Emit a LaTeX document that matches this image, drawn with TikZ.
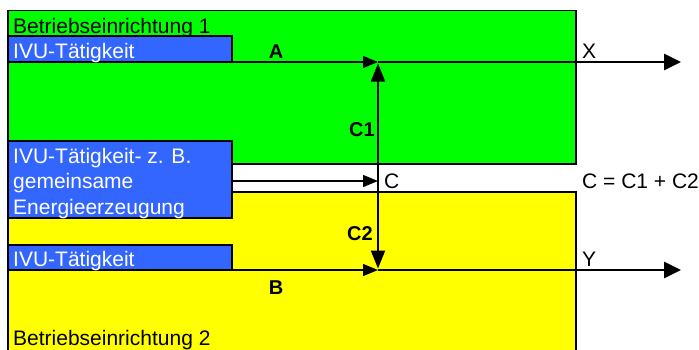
\documentclass[tikz,border=0pt]{standalone}
\usepackage{fontspec}
\setmainfont{Liberation Sans}
\usetikzlibrary{arrows.meta}

\definecolor{ivublue}{RGB}{51,102,255}
\definecolor{werkgruen}{RGB}{0,255,0}
\definecolor{werkgelb}{RGB}{255,255,0}

\tikzset{
  werk/.style={draw=black, line width=1.5pt, anchor=north west, minimum width=568pt, inner sep=0pt, outer sep=0pt},
  ivu/.style={draw=black, fill=ivublue, line width=2pt, anchor=north west, minimum width=224pt, inner sep=0pt, outer sep=0pt},
  txt/.style={anchor=base west, inner sep=0pt},
  lbl/.style={font=\bfseries\fontsize{20}{22}\selectfont, inner sep=0pt},
  flow/.style={line width=1.3pt, -{Triangle[length=15pt,width=12pt]}},
  vflow/.style={line width=2pt, -{Triangle[length=18pt,width=14pt]}, shorten >=1.5pt},
  outflow/.style={line width=2.8pt, -{Triangle[length=17pt,width=16pt]}}
}

\begin{document}
\begin{tikzpicture}[x=1pt, y=-1pt, every node/.style={font=\fontsize{21}{25}\selectfont}]
  \useasboundingbox (0,0) rectangle (699,349);

  % Betriebseinrichtungen
  \node[werk, fill=werkgruen, minimum height=153.5pt] (werk1) at (8,10.5) {};
  \node[werk, fill=werkgelb, minimum height=160pt] (werk2) at (8,192) {};
  \node[txt] (name1) at (13,33.3) {Betriebseinrichtung 1};
  \node[txt] (name2) at (13,345) {Betriebseinrichtung 2};

  % IVU boxes
  \node[ivu, minimum height=26pt] (ivu1) at (8,36) {};
  \node[ivu, minimum height=77pt] (ivu2) at (8,141) {};
  \node[ivu, minimum height=25pt] (ivu3) at (8,245) {};
  \node[txt, text=white] (t1) at (13,58) {IVU-Tätigkeit};
  \foreach \t [count=\i] in {IVU-Tätigkeit- z. B., gemeinsame, Energieerzeugung}
    \node[txt, text=white] (t2\i) at (13,{163+25.5*(\i-1)}) {\t};
  \node[txt, text=white] (t3) at (13,266) {IVU-Tätigkeit};

  % junctions
  \coordinate (jc) at (378,181);
  \coordinate (j1) at (ivu1.south east -| jc);
  \coordinate (j2) at (ivu3.south east -| jc);
  \coordinate (xend) at (681,62);
  \coordinate (yend) at (681,270);

  % flows
  \draw[flow] (ivu1.south east) -- (j1);
  \draw[flow] (ivu3.south east) -- (j2);
  \draw[flow] (ivu2.east |- jc) -- (jc);
  \draw[vflow] (jc) -- (j1);
  \draw[vflow] (jc) -- (j2);
  \draw[outflow] (j1) -- (xend);
  \draw[outflow] (j2) -- (yend);

  % labels
  \node[lbl] (la) at (276,52) {A};
  \node[lbl] (lb) at (276,287.5) {B};
  \node[lbl] (lc1) at (362,130) {C1};
  \node[lbl] (lc2) at (360,234) {C2};
  \node[txt] (lx) at (582,58.5) {X};
  \node[txt] (ly) at (582,266) {Y};
  \node[txt] (lc) at (384,188) {C};
  \node[txt] (lsum) at (582,188) {C = C1 + C2};
\end{tikzpicture}
\end{document}
